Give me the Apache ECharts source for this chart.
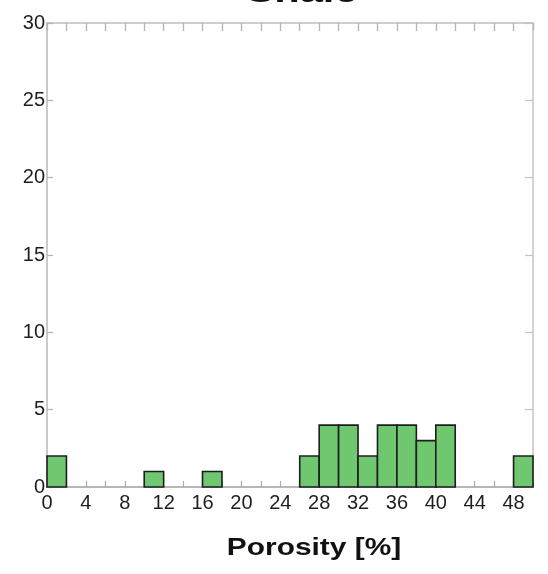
<!DOCTYPE html>
<html>
<head>
<meta charset="utf-8">
<script src="https://cdn.jsdelivr.net/npm/echarts@6/dist/echarts.min.js"></script>
<style>
  html, body { margin: 0; padding: 0; background: #fff; }
  #chart { width: 548px; height: 574px; }
</style>
</head>
<body>
<div id="chart"></div>
<script>
// Porosity histogram for the shale samples, 2 % wide bins
const binStarts = [0, 2, 4, 6, 8, 10, 12, 14, 16, 18, 20, 22, 24, 26, 28, 30, 32, 34, 36, 38, 40, 42, 44, 46, 48];
const counts    = [2, 0, 0, 0, 0, 1, 0, 0, 1, 0, 0, 0, 0, 2, 4, 4, 2, 4, 4, 3, 4, 0, 0, 0, 2];
const binWidth = 2;
const xTickLabels = [0, 4, 8, 12, 16, 20, 24, 28, 32, 36, 40, 44, 48];
const yTickLabels = [0, 5, 10, 15, 20, 25, 30];
const chartTitle = 'Shale';
const xTitle = 'Porosity [%]';

const bins = [];
binStarts.forEach((s, i) => {
  if (counts[i] > 0) bins.push([s, s + binWidth, counts[i]]);
});

const FONT = '"Liberation Sans", Arial, Helvetica, sans-serif';
const chart = echarts.init(document.getElementById('chart'), null, { renderer: 'canvas' });

const xMin = 0, xMax = binStarts[binStarts.length - 1] + binWidth;
const yMin = yTickLabels[0], yMax = yTickLabels[yTickLabels.length - 1];

chart.setOption({
  animation: false,
  backgroundColor: '#ffffff',
  grid: { left: 47, right: 15, top: 23, bottom: 87 },
  xAxis: [
    {
      type: 'value', position: 'bottom', min: xMin, max: xMax, interval: 2,
      axisLine: { show: true, onZero: false, lineStyle: { color: '#a0a0a0', width: 1.5 } },
      axisTick: { show: true, inside: true, length: 6, lineStyle: { color: '#aaaaaa', width: 1.2 } },
      axisLabel: {
        margin: 6, color: '#1e1e1e', fontSize: 20, fontFamily: FONT,
        formatter: v => (xTickLabels.indexOf(v) >= 0 ? String(v) : '')
      },
      splitLine: { show: false }
    },
    {
      type: 'value', position: 'top', min: xMin, max: xMax, interval: 2,
      axisLine: { show: true, onZero: false, lineStyle: { color: '#bdbdbd', width: 1.5 } },
      axisTick: { show: true, inside: true, length: 8, lineStyle: { color: '#b4b4b4', width: 1.3 } },
      axisLabel: { show: false },
      splitLine: { show: false }
    }
  ],
  yAxis: [
    {
      type: 'value', position: 'left', min: yMin, max: yMax, interval: 5,
      axisLine: { show: true, onZero: false, lineStyle: { color: '#cacaca', width: 2 } },
      axisTick: { show: true, inside: true, length: 6, lineStyle: { color: '#b4b4b4', width: 1.2 } },
      axisLabel: {
        margin: 2, color: '#1e1e1e', fontSize: 20, fontFamily: FONT,
        formatter: v => (yTickLabels.indexOf(v) >= 0 ? String(v) : '')
      },
      splitLine: { show: false }
    },
    {
      type: 'value', position: 'right', min: yMin, max: yMax, interval: 5,
      axisLine: { show: true, onZero: false, lineStyle: { color: '#c4c4c4', width: 1.5 } },
      axisTick: { show: true, inside: true, length: 8, lineStyle: { color: '#c4c4c4', width: 1.2 } },
      axisLabel: { show: false },
      splitLine: { show: false }
    }
  ],
  series: [{
    type: 'custom',
    xAxisIndex: 0,
    yAxisIndex: 0,
    data: bins,
    encode: { x: [0, 1], y: 2 },
    renderItem: function (params, api) {
      const topLeft = api.coord([api.value(0), api.value(2)]);
      const bottomRight = api.coord([api.value(1), 0]);
      return {
        type: 'rect',
        shape: {
          x: topLeft[0], y: topLeft[1],
          width: bottomRight[0] - topLeft[0],
          height: bottomRight[1] - topLeft[1]
        },
        style: { fill: '#6fc86f', stroke: '#1e1e1e', lineWidth: 1.6 }
      };
    },
    z: 3
  }],
  graphic: [
    {
      type: 'text', x: 302, y: -6.5, scaleX: 1.3, z: 10,
      style: {
        text: chartTitle, fill: '#111',
        font: 'bold 32px ' + FONT,
        textAlign: 'center', textVerticalAlign: 'middle',
        align: 'center', verticalAlign: 'middle'
      }
    },
    {
      type: 'text', x: 314, y: 549, scaleX: 1.3, z: 10,
      style: {
        text: xTitle, fill: '#111',
        font: 'bold 23px ' + FONT,
        textAlign: 'center', textVerticalAlign: 'middle',
        align: 'center', verticalAlign: 'middle'
      }
    }
  ]
});
</script>
</body>
</html>
